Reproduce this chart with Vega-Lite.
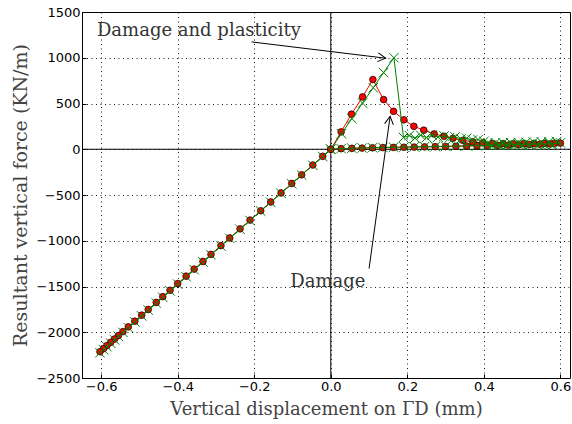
{
  "$schema": "https://vega.github.io/schema/vega-lite/v6.json",
  "width": 488,
  "height": 366,
  "autosize": "none",
  "padding": {"left": 82, "top": 12, "right": 2, "bottom": 46},
  "background": "white",
  "config": {
    "view": {"stroke": "#000", "strokeWidth": 1},
    "axis": {
      "domain": false,
      "grid": true,
      "gridColor": "#000",
      "gridDash": [1, 3.5],
      "gridOpacity": 0.9,
      "gridWidth": 1,
      "tickColor": "#000",
      "tickSize": -4,
      "labelFont": "DejaVu Sans",
      "labelFontSize": 13,
      "labelColor": "#000",
      "titleFont": "DejaVu Serif",
      "titleFontSize": 18,
      "titleFontWeight": "normal",
      "titleColor": "#444"
    }
  },
  "datasets": {
    "curves": [
      {"s": "D", "i": 0, "x": 0, "y": 0},
      {"s": "D", "i": 1, "x": 0.027, "y": 190},
      {"s": "D", "i": 2, "x": 0.054, "y": 383},
      {"s": "D", "i": 3, "x": 0.083, "y": 572},
      {"s": "D", "i": 4, "x": 0.110, "y": 762},
      {"s": "D", "i": 5, "x": 0.138, "y": 543},
      {"s": "D", "i": 6, "x": 0.164, "y": 415},
      {"s": "D", "i": 7, "x": 0.191, "y": 322},
      {"s": "D", "i": 8, "x": 0.217, "y": 251},
      {"s": "D", "i": 9, "x": 0.243, "y": 208},
      {"s": "D", "i": 10, "x": 0.270, "y": 167},
      {"s": "D", "i": 11, "x": 0.296, "y": 142},
      {"s": "D", "i": 12, "x": 0.319, "y": 120},
      {"s": "D", "i": 13, "x": 0.345, "y": 97},
      {"s": "D", "i": 14, "x": 0.371, "y": 80},
      {"s": "D", "i": 15, "x": 0.397, "y": 70},
      {"s": "D", "i": 16, "x": 0.423, "y": 64},
      {"s": "D", "i": 17, "x": 0.450, "y": 61},
      {"s": "D", "i": 18, "x": 0.477, "y": 60},
      {"s": "D", "i": 19, "x": 0.504, "y": 61},
      {"s": "D", "i": 20, "x": 0.530, "y": 62},
      {"s": "D", "i": 21, "x": 0.557, "y": 64},
      {"s": "D", "i": 22, "x": 0.584, "y": 66},
      {"s": "D", "i": 23, "x": 0.600, "y": 67},
      {"s": "D", "i": 24, "x": 0.573, "y": 58},
      {"s": "D", "i": 25, "x": 0.546, "y": 55},
      {"s": "D", "i": 26, "x": 0.518, "y": 52},
      {"s": "D", "i": 27, "x": 0.491, "y": 49},
      {"s": "D", "i": 28, "x": 0.464, "y": 46},
      {"s": "D", "i": 29, "x": 0.436, "y": 43},
      {"s": "D", "i": 30, "x": 0.409, "y": 40},
      {"s": "D", "i": 31, "x": 0.382, "y": 38},
      {"s": "D", "i": 32, "x": 0.355, "y": 35},
      {"s": "D", "i": 33, "x": 0.327, "y": 33},
      {"s": "D", "i": 34, "x": 0.300, "y": 30},
      {"s": "D", "i": 35, "x": 0.273, "y": 28},
      {"s": "D", "i": 36, "x": 0.245, "y": 26},
      {"s": "D", "i": 37, "x": 0.218, "y": 24},
      {"s": "D", "i": 38, "x": 0.191, "y": 22},
      {"s": "D", "i": 39, "x": 0.164, "y": 20},
      {"s": "D", "i": 40, "x": 0.136, "y": 18},
      {"s": "D", "i": 41, "x": 0.109, "y": 16},
      {"s": "D", "i": 42, "x": 0.082, "y": 13},
      {"s": "D", "i": 43, "x": 0.055, "y": 10},
      {"s": "D", "i": 44, "x": 0.027, "y": 6},
      {"s": "D", "i": 45, "x": 0, "y": 0},
      {"s": "D", "i": 46, "x": -0.021, "y": -77},
      {"s": "D", "i": 47, "x": -0.047, "y": -172},
      {"s": "D", "i": 48, "x": -0.076, "y": -279},
      {"s": "D", "i": 49, "x": -0.102, "y": -374},
      {"s": "D", "i": 50, "x": -0.130, "y": -477},
      {"s": "D", "i": 51, "x": -0.157, "y": -576},
      {"s": "D", "i": 52, "x": -0.183, "y": -672},
      {"s": "D", "i": 53, "x": -0.211, "y": -774},
      {"s": "D", "i": 54, "x": -0.237, "y": -870},
      {"s": "D", "i": 55, "x": -0.264, "y": -969},
      {"s": "D", "i": 56, "x": -0.287, "y": -1053},
      {"s": "D", "i": 57, "x": -0.313, "y": -1149},
      {"s": "D", "i": 58, "x": -0.334, "y": -1226},
      {"s": "D", "i": 59, "x": -0.357, "y": -1310},
      {"s": "D", "i": 60, "x": -0.378, "y": -1387},
      {"s": "D", "i": 61, "x": -0.400, "y": -1468},
      {"s": "D", "i": 62, "x": -0.420, "y": -1541},
      {"s": "D", "i": 63, "x": -0.439, "y": -1611},
      {"s": "D", "i": 64, "x": -0.456, "y": -1674},
      {"s": "D", "i": 65, "x": -0.477, "y": -1751},
      {"s": "D", "i": 66, "x": -0.494, "y": -1813},
      {"s": "D", "i": 67, "x": -0.512, "y": -1879},
      {"s": "D", "i": 68, "x": -0.529, "y": -1941},
      {"s": "D", "i": 69, "x": -0.543, "y": -1993},
      {"s": "D", "i": 70, "x": -0.555, "y": -2037},
      {"s": "D", "i": 71, "x": -0.565, "y": -2074},
      {"s": "D", "i": 72, "x": -0.575, "y": -2110},
      {"s": "D", "i": 73, "x": -0.585, "y": -2147},
      {"s": "D", "i": 74, "x": -0.594, "y": -2180},
      {"s": "D", "i": 75, "x": -0.603, "y": -2213},

      {"s": "DP", "i": 0, "x": 0, "y": 0},
      {"s": "DP", "i": 1, "x": 0.028, "y": 170},
      {"s": "DP", "i": 2, "x": 0.055, "y": 335},
      {"s": "DP", "i": 3, "x": 0.083, "y": 505},
      {"s": "DP", "i": 4, "x": 0.111, "y": 672},
      {"s": "DP", "i": 5, "x": 0.138, "y": 838},
      {"s": "DP", "i": 6, "x": 0.165, "y": 1000},
      {"s": "DP", "i": 7, "x": 0.190, "y": 128},
      {"s": "DP", "i": 8, "x": 0.205, "y": 150},
      {"s": "DP", "i": 9, "x": 0.220, "y": 122},
      {"s": "DP", "i": 10, "x": 0.235, "y": 152},
      {"s": "DP", "i": 11, "x": 0.250, "y": 128},
      {"s": "DP", "i": 12, "x": 0.265, "y": 155},
      {"s": "DP", "i": 13, "x": 0.280, "y": 132},
      {"s": "DP", "i": 14, "x": 0.296, "y": 145},
      {"s": "DP", "i": 15, "x": 0.310, "y": 125},
      {"s": "DP", "i": 16, "x": 0.325, "y": 135},
      {"s": "DP", "i": 17, "x": 0.340, "y": 112},
      {"s": "DP", "i": 18, "x": 0.355, "y": 120},
      {"s": "DP", "i": 19, "x": 0.370, "y": 100},
      {"s": "DP", "i": 20, "x": 0.385, "y": 105},
      {"s": "DP", "i": 21, "x": 0.400, "y": 85},
      {"s": "DP", "i": 22, "x": 0.410, "y": 70},
      {"s": "DP", "i": 23, "x": 0.420, "y": 45},
      {"s": "DP", "i": 24, "x": 0.430, "y": 68},
      {"s": "DP", "i": 25, "x": 0.440, "y": 44},
      {"s": "DP", "i": 26, "x": 0.450, "y": 70},
      {"s": "DP", "i": 27, "x": 0.460, "y": 45},
      {"s": "DP", "i": 28, "x": 0.470, "y": 72},
      {"s": "DP", "i": 29, "x": 0.480, "y": 46},
      {"s": "DP", "i": 30, "x": 0.490, "y": 74},
      {"s": "DP", "i": 31, "x": 0.500, "y": 46},
      {"s": "DP", "i": 32, "x": 0.510, "y": 76},
      {"s": "DP", "i": 33, "x": 0.520, "y": 45},
      {"s": "DP", "i": 34, "x": 0.530, "y": 78},
      {"s": "DP", "i": 35, "x": 0.540, "y": 45},
      {"s": "DP", "i": 36, "x": 0.550, "y": 80},
      {"s": "DP", "i": 37, "x": 0.560, "y": 44},
      {"s": "DP", "i": 38, "x": 0.570, "y": 82},
      {"s": "DP", "i": 39, "x": 0.580, "y": 44},
      {"s": "DP", "i": 40, "x": 0.590, "y": 84},
      {"s": "DP", "i": 41, "x": 0.600, "y": 70},
      {"s": "DP", "i": 42, "x": 0.573, "y": 60},
      {"s": "DP", "i": 43, "x": 0.546, "y": 57},
      {"s": "DP", "i": 44, "x": 0.518, "y": 54},
      {"s": "DP", "i": 45, "x": 0.491, "y": 51},
      {"s": "DP", "i": 46, "x": 0.464, "y": 48},
      {"s": "DP", "i": 47, "x": 0.436, "y": 45},
      {"s": "DP", "i": 48, "x": 0.409, "y": 42},
      {"s": "DP", "i": 49, "x": 0.382, "y": 40},
      {"s": "DP", "i": 50, "x": 0.355, "y": 37},
      {"s": "DP", "i": 51, "x": 0.327, "y": 35},
      {"s": "DP", "i": 52, "x": 0.300, "y": 32},
      {"s": "DP", "i": 53, "x": 0.273, "y": 30},
      {"s": "DP", "i": 54, "x": 0.245, "y": 28},
      {"s": "DP", "i": 55, "x": 0.218, "y": 26},
      {"s": "DP", "i": 56, "x": 0.191, "y": 24},
      {"s": "DP", "i": 57, "x": 0.164, "y": 22},
      {"s": "DP", "i": 58, "x": 0.136, "y": 20},
      {"s": "DP", "i": 59, "x": 0.109, "y": 17},
      {"s": "DP", "i": 60, "x": 0.082, "y": 14},
      {"s": "DP", "i": 61, "x": 0.055, "y": 11},
      {"s": "DP", "i": 62, "x": 0.027, "y": 7},
      {"s": "DP", "i": 63, "x": 0, "y": 0},
      {"s": "DP", "i": 64, "x": -0.021, "y": -80},
      {"s": "DP", "i": 65, "x": -0.047, "y": -175},
      {"s": "DP", "i": 66, "x": -0.076, "y": -282},
      {"s": "DP", "i": 67, "x": -0.102, "y": -378},
      {"s": "DP", "i": 68, "x": -0.130, "y": -481},
      {"s": "DP", "i": 69, "x": -0.157, "y": -580},
      {"s": "DP", "i": 70, "x": -0.183, "y": -676},
      {"s": "DP", "i": 71, "x": -0.211, "y": -779},
      {"s": "DP", "i": 72, "x": -0.237, "y": -875},
      {"s": "DP", "i": 73, "x": -0.264, "y": -974},
      {"s": "DP", "i": 74, "x": -0.287, "y": -1058},
      {"s": "DP", "i": 75, "x": -0.313, "y": -1154},
      {"s": "DP", "i": 76, "x": -0.334, "y": -1231},
      {"s": "DP", "i": 77, "x": -0.357, "y": -1316},
      {"s": "DP", "i": 78, "x": -0.378, "y": -1393},
      {"s": "DP", "i": 79, "x": -0.400, "y": -1474},
      {"s": "DP", "i": 80, "x": -0.420, "y": -1548},
      {"s": "DP", "i": 81, "x": -0.439, "y": -1618},
      {"s": "DP", "i": 82, "x": -0.456, "y": -1681},
      {"s": "DP", "i": 83, "x": -0.477, "y": -1758},
      {"s": "DP", "i": 84, "x": -0.494, "y": -1821},
      {"s": "DP", "i": 85, "x": -0.512, "y": -1887},
      {"s": "DP", "i": 86, "x": -0.529, "y": -1950},
      {"s": "DP", "i": 87, "x": -0.543, "y": -2002},
      {"s": "DP", "i": 88, "x": -0.555, "y": -2046},
      {"s": "DP", "i": 89, "x": -0.565, "y": -2083},
      {"s": "DP", "i": 90, "x": -0.575, "y": -2120},
      {"s": "DP", "i": 91, "x": -0.585, "y": -2157},
      {"s": "DP", "i": 92, "x": -0.594, "y": -2190},
      {"s": "DP", "i": 93, "x": -0.603, "y": -2224}
    ],
    "labels": [
      {"label": "Damage and plasticity", "x": -0.611, "y": 1290},
      {"label": "Damage", "x": -0.106, "y": -1454}
    ],
    "arrows": [
      {"id": "dp", "x": -0.207, "y": 1173, "x2": 0.1435, "y2": 995},
      {"id": "d", "x": 0.100, "y": -1304, "x2": 0.155, "y2": 360}
    ]
  },
  "encoding": {
    "x": {
      "field": "x",
      "type": "quantitative",
      "scale": {"domain": [-0.65, 0.625], "nice": false, "zero": false},
      "axis": {
        "values": [-0.6, -0.4, -0.2, 0, 0.2, 0.4, 0.6],
        "format": ".1f",
        "labelPadding": 6,
        "title": "Vertical displacement on ΓD (mm)",
        "titlePadding": 7
      }
    },
    "y": {
      "field": "y",
      "type": "quantitative",
      "scale": {"domain": [-2500, 1500], "nice": false, "zero": false},
      "axis": {
        "values": [-2500, -2000, -1500, -1000, -500, 0, 500, 1000, 1500],
        "format": "d",
        "labelPadding": 6,
        "title": "Resultant vertical force (KN/m)",
        "titleFontSize": 19,
        "titlePadding": 6
      }
    }
  },
  "layer": [
    {
      "data": {"values": [{"x": -0.65, "x2": 0.625, "y": 0}]},
      "mark": {"type": "rule", "color": "#000", "strokeWidth": 1},
      "encoding": {"x2": {"field": "x2"}}
    },
    {
      "data": {"values": [{"x": 0, "y": -2500, "y2": 1500}]},
      "mark": {"type": "rule", "color": "#000", "strokeWidth": 1},
      "encoding": {"y2": {"field": "y2"}}
    },
    {
      "data": {"name": "curves"},
      "transform": [{"filter": "datum.s === 'D'"}],
      "mark": {"type": "line", "color": "#ff0000", "strokeWidth": 1},
      "encoding": {"order": {"field": "i", "type": "quantitative"}}
    },
    {
      "data": {"name": "curves"},
      "transform": [{"filter": "datum.s === 'D'"}],
      "mark": {"type": "point", "shape": "circle", "filled": true, "fill": "#ff0000", "stroke": "#000", "strokeWidth": 0.7, "size": 45, "opacity": 1}
    },
    {
      "data": {"name": "curves"},
      "transform": [{"filter": "datum.s === 'DP'"}],
      "mark": {"type": "line", "color": "#008000", "strokeWidth": 1},
      "encoding": {"order": {"field": "i", "type": "quantitative"}}
    },
    {
      "data": {"name": "curves"},
      "transform": [{"filter": "datum.s === 'DP'"}],
      "mark": {"type": "point", "shape": "M-1,-1L1,1M-1,1L1,-1", "filled": false, "stroke": "#008000", "strokeWidth": 1, "size": 90, "opacity": 1}
    },
    {
      "data": {"name": "arrows"},
      "mark": {"type": "rule", "color": "#000", "strokeWidth": 1},
      "encoding": {"x2": {"field": "x2"}, "y2": {"field": "y2"}}
    },
    {
      "data": {"name": "arrows"},
      "transform": [{"filter": "datum.id === 'dp'"}],
      "mark": {"type": "point", "shape": "M-1,-0.55L0,0L-1,0.55", "filled": false, "stroke": "#000", "strokeWidth": 1, "size": 256, "angle": 7, "opacity": 1},
      "encoding": {"x": {"field": "x2", "type": "quantitative"}, "y": {"field": "y2", "type": "quantitative"}}
    },
    {
      "data": {"name": "arrows"},
      "transform": [{"filter": "datum.id === 'd'"}],
      "mark": {"type": "point", "shape": "M-1,-0.55L0,0L-1,0.55", "filled": false, "stroke": "#000", "strokeWidth": 1, "size": 256, "angle": 278, "opacity": 1},
      "encoding": {"x": {"field": "x2", "type": "quantitative"}, "y": {"field": "y2", "type": "quantitative"}}
    },
    {
      "data": {"name": "labels"},
      "mark": {"type": "text", "align": "left", "baseline": "middle", "font": "DejaVu Serif", "fontSize": 18, "color": "#333"},
      "encoding": {"text": {"field": "label"}}
    }
  ]
}
